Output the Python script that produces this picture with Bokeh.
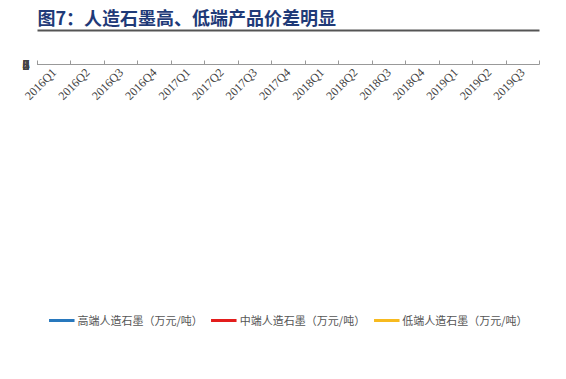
from bokeh.plotting import figure
from bokeh.models import (Range1d, FixedTicker, LinearAxis, Legend, LegendItem, Title)
from bokeh.embed import file_html
from bokeh.resources import INLINE
import math

quarters = ["2016Q1", "2016Q2", "2016Q3", "2016Q4", "2017Q1", "2017Q2", "2017Q3", "2017Q4",
            "2018Q1", "2018Q2", "2018Q3", "2018Q4", "2019Q1", "2019Q2", "2019Q3"]
high_end = [7, 7, 7, 7, 7, 7, 7, 7, 7, 7, 7, 7, 7, 7, 7]
mid_end = [4.5, 4.5, 4.5, 4.5, 4.5, 4.5, 4.5, 4.5, 4.5, 4.8, 5.1, 5.1, 4.7, 4.7, 4.7]
low_end = [2, 2, 2, 2, 2, 2, 2, 2.75, 2.75, 2.75, 2.75, 2.75, 2.75, 2.5, 2.5]
series_names = ["高端人造石墨（万元/吨）", "中端人造石墨（万元/吨）", "低端人造石墨（万元/吨）"]
y_ticks = [0, 1, 2, 3, 4, 5, 6, 7, 8]

colors = ["#2878BD", "#E31D1C", "#F7BA1F"]
n = len(quarters)
xs = list(range(n))

p = figure(width=550, height=363, output_backend="svg", toolbar_location=None,
           x_range=Range1d(-0.5, n - 0.5), y_range=Range1d(0, 8),
           min_border_left=37, min_border_right=11, min_border_top=59, min_border_bottom=102)
p.outline_line_color = None
p.xgrid.grid_line_color = None
p.ygrid.grid_line_color = None

p.title.text = "图7：人造石墨高、低端产品价差明显"
p.title.text_font = "Noto Sans CJK SC"
p.title.text_font_size = "18px"
p.title.text_font_style = "bold"
p.title.text_color = "#1F3A78"
p.title.align = "left"
p.title.standoff = 2

renderers = []
for vals, c in zip([high_end, mid_end, low_end], colors):
    r = p.line(xs, vals, line_color=c, line_width=3)
    renderers.append(r)

# bottom axis: labels at category centres, tick marks at category boundaries
xa = p.xaxis[0]
xa.ticker = FixedTicker(ticks=[i for i in range(n)],
                        minor_ticks=[i - 0.5 for i in range(n + 1)])
xa.major_label_overrides = {i: q for i, q in enumerate(quarters)}
xa.major_tick_line_color = None
xa.major_tick_in = 0
xa.major_tick_out = 0
xa.minor_tick_in = 4
xa.minor_tick_out = 0
xa.minor_tick_line_color = "#999999"
xa.axis_line_color = "#999999"
xa.major_label_orientation = math.pi / 4
xa.major_label_text_font = "Liberation Serif"
xa.major_label_text_font_size = "12px"
xa.major_label_text_color = "#444444"
xa.major_label_standoff = 6

ya = p.yaxis[0]
ya.ticker = FixedTicker(ticks=y_ticks)
ya.major_tick_in = 4
ya.major_tick_out = 0
ya.minor_tick_line_color = None
ya.major_tick_line_color = "#999999"
ya.axis_line_color = "#999999"
ya.major_label_text_font = "Liberation Serif"
ya.major_label_text_font_size = "14px"
ya.major_label_text_color = "#444444"
ya.major_label_standoff = 8

# spacer + underline between the title and the plot frame
top_spacer = Title(text=" ", text_font_size="29px", standoff=0)
p.add_layout(top_spacer, "above")
underline = LinearAxis(axis_line_color="#555555", axis_line_width=2,
                       major_tick_line_color=None, minor_tick_line_color=None,
                       major_tick_out=0, minor_tick_out=0, major_tick_in=0, minor_tick_in=0,
                       major_label_text_color=None)
p.add_layout(underline, "above")

bottom_spacer = Title(text=" ", text_font_size="30px", standoff=0)
p.add_layout(bottom_spacer, "below")

legend = Legend(items=[LegendItem(label=nm, renderers=[r]) for nm, r in zip(series_names, renderers)],
                orientation="horizontal", location="center")
legend.label_text_font = "Noto Sans CJK SC"
legend.label_text_font_size = "11px"
legend.label_text_color = "#555555"
legend.glyph_width = 26
legend.label_standoff = 3
legend.spacing = 8
legend.padding = 4
legend.border_line_color = None
legend.background_fill_alpha = 0
legend.margin = 0
p.add_layout(legend, "below")

open("out.html", "w").write(file_html(p, INLINE))
